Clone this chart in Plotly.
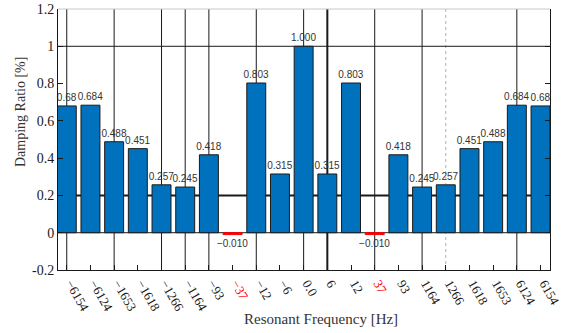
import plotly.graph_objects as go

categories = ["−6154", "−6124", "−1653", "−1618", "−1266", "−1164", "−93", "−37", "−12", "−6",
              "0.0", "6", "12", "37", "93", "1164", "1266", "1618", "1653", "6124", "6154"]
values = [0.68, 0.684, 0.488, 0.451, 0.257, 0.245, 0.418, -0.010, 0.803, 0.315,
          1.000, 0.315, 0.803, -0.010, 0.418, 0.245, 0.257, 0.451, 0.488, 0.684, 0.68]
value_labels = ["0.68", "0.684", "0.488", "0.451", "0.257", "0.245", "0.418", "−0.010", "0.803", "0.315",
                "1.000", "0.315", "0.803", "−0.010", "0.418", "0.245", "0.257", "0.451", "0.488", "0.684", "0.68"]
red_categories = ["−37", "37"]
vline_categories = ["−6154", "−1653", "−1266", "−1164", "−93", "−12", "0.0", "37", "1164", "6124"]
thick_vline_categories = ["6"]
dotted_vline_categories = ["1266"]
hline_values = [1.0, 0.0]
thick_hline_values = [0.2]
y_ticks = [-0.2, 0, 0.2, 0.4, 0.6, 0.8, 1, 1.2]
y_tick_labels = ["-0.2", "0", "0.2", "0.4", "0.6", "0.8", "1", "1.2"]
x_title = "Resonant Frequency [Hz]"
y_title = "Damping Ratio [%]"

idx = list(range(len(categories)))
colors = ["#FF0000" if c in red_categories else "#0072BD" for c in categories]
line_colors = ["#FF0000" if c in red_categories else "#1a1a1a" for c in categories]
ticktext = [f"<span style='color:red'>{c}</span>" if c in red_categories else c for c in categories]

fig = go.Figure()
fig.add_trace(go.Bar(
    x=idx, y=values, width=0.8,
    marker=dict(color=colors, line=dict(color=line_colors, width=1)),
    text=value_labels, textposition="outside", constraintext="none",
    textfont=dict(family="Liberation Sans", size=10, color="#333333"),
    cliponaxis=False, hoverinfo="skip",
))

shapes = []
for c in vline_categories:
    shapes.append(dict(type="line", xref="x", yref="paper", x0=categories.index(c), x1=categories.index(c),
                       y0=0, y1=1, line=dict(color="#1a1a1a", width=1), layer="below"))
for c in thick_vline_categories:
    shapes.append(dict(type="line", xref="x", yref="paper", x0=categories.index(c), x1=categories.index(c),
                       y0=0, y1=1, line=dict(color="#1a1a1a", width=2), layer="below"))
for c in dotted_vline_categories:
    shapes.append(dict(type="line", xref="x", yref="paper", x0=categories.index(c), x1=categories.index(c),
                       y0=0, y1=1, line=dict(color="#b0b0b0", width=1, dash="dot"), layer="below"))
for v in hline_values:
    shapes.append(dict(type="line", xref="paper", yref="y", x0=0, x1=1, y0=v, y1=v,
                       line=dict(color="#1a1a1a", width=1), layer="below"))
for v in thick_hline_values:
    shapes.append(dict(type="line", xref="paper", yref="y", x0=0, x1=1, y0=v, y1=v,
                       line=dict(color="#1a1a1a", width=2), layer="below"))
# top border (light grey)
shapes.append(dict(type="line", xref="paper", yref="paper", x0=0, x1=1, y0=1, y1=1,
                   line=dict(color="#c8c8c8", width=1)))

serif = "Liberation Serif"
annotations = [
    dict(text=x_title, xref="paper", yref="paper", x=0.5346, y=-0.1877, xanchor="center", yanchor="middle",
         showarrow=False, font=dict(family=serif, size=15, color="#333333")),
    dict(text=y_title, xref="paper", yref="paper", x=-0.0752, y=0.6054, xanchor="center", yanchor="middle",
         textangle=-90, showarrow=False, font=dict(family=serif, size=14, color="#333333")),
]

fig.update_layout(
    width=562, height=333,
    margin=dict(l=58, r=12, t=9, b=63),
    paper_bgcolor="white", plot_bgcolor="white",
    showlegend=False,
    shapes=shapes,
    annotations=annotations,
    xaxis=dict(
        range=[-0.37, len(categories) - 1 + 0.4],
        tickmode="array", tickvals=idx, ticktext=ticktext,
        tickangle=60, ticks="inside", ticklen=5, tickcolor="#1a1a1a",
        ticklabelshift=4, ticklabeloverflow="allow",
        showgrid=False, zeroline=False, automargin=False,
        showline=True, linecolor="#1a1a1a", linewidth=1, mirror=False,
        tickfont=dict(family=serif, size=13, color="#1a1a1a"),
    ),
    yaxis=dict(
        range=[-0.2, 1.2],
        tickmode="array", tickvals=y_ticks, ticktext=y_tick_labels,
        ticks="inside", ticklen=5, tickcolor="#1a1a1a",
        showgrid=False, zeroline=False, automargin=False,
        showline=True, linecolor="#1a1a1a", linewidth=1, mirror="ticks",
        tickfont=dict(family=serif, size=14, color="#1a1a1a"),
    ),
)

fig.write_html("out.html", config={"displayModeBar": False},
               post_script="document.body.style.margin='0';document.body.style.overflow='hidden';")
